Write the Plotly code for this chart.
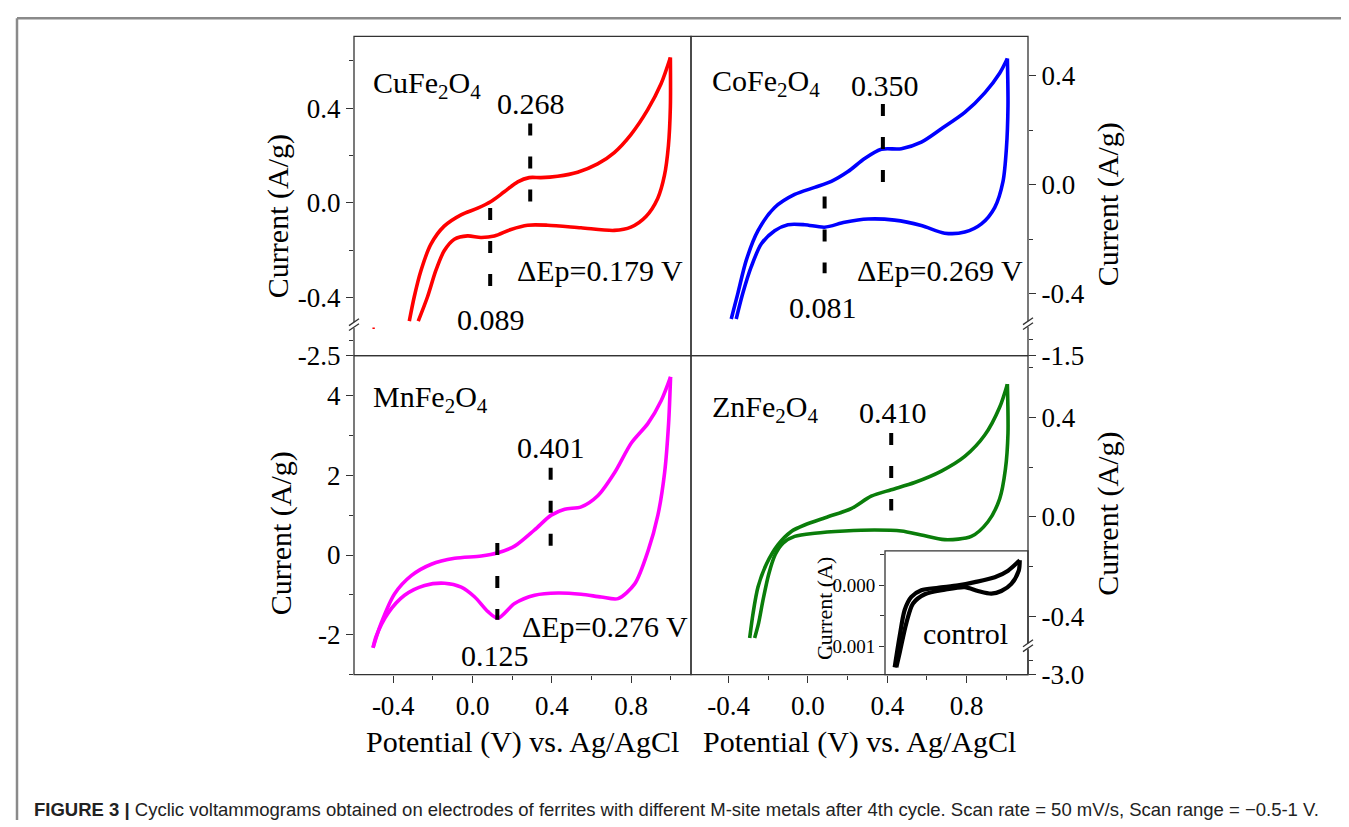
import plotly.graph_objects as go

W, H = 1349, 827

# ---------------- data ----------------
# CuFe2O4 (top-left), V vs Ag/AgCl, current A/g
cu_fwd_v = [-0.319, -0.294, -0.260, -0.210, -0.143, -0.058, 0.026, 0.093, 0.160, 0.228, 0.286, 0.345, 0.429, 0.530, 0.631, 0.715, 0.799, 0.883, 0.951, 0.998]
cu_fwd_i = [-0.499, -0.396, -0.285, -0.174, -0.098, -0.050, -0.022, 0.006, 0.047, 0.089, 0.107, 0.107, 0.113, 0.130, 0.165, 0.213, 0.289, 0.393, 0.503, 0.614]
cu_rev_v = [0.998, 0.998, 0.988, 0.968, 0.934, 0.875, 0.799, 0.715, 0.547, 0.379, 0.278, 0.194, 0.110, 0.042, -0.025, -0.092, -0.143, -0.185, -0.227, -0.274]
cu_rev_i = [0.614, 0.407, 0.241, 0.116, 0.019, -0.057, -0.102, -0.116, -0.105, -0.094, -0.094, -0.112, -0.140, -0.146, -0.139, -0.153, -0.202, -0.285, -0.396, -0.499]
cu_tail_v = [-0.505, -0.493]
cu_tail_i = [-2.32, -2.32]

# CoFe2O4 (top-right)
co_fwd_v = [-0.387, -0.353, -0.311, -0.252, -0.168, -0.067, 0.034, 0.118, 0.202, 0.286, 0.370, 0.471, 0.572, 0.673, 0.791, 0.892, 0.967, 1.006]
co_fwd_i = [-0.493, -0.397, -0.277, -0.169, -0.084, -0.036, -0.010, 0.012, 0.048, 0.096, 0.130, 0.132, 0.156, 0.205, 0.265, 0.337, 0.409, 0.463]
co_rev_v = [1.006, 1.009, 1.001, 0.984, 0.942, 0.875, 0.791, 0.690, 0.572, 0.437, 0.303, 0.185, 0.084, -0.017, -0.101, -0.168, -0.235, -0.286, -0.328, -0.362]
co_rev_i = [0.463, 0.289, 0.132, 0.012, -0.084, -0.144, -0.174, -0.178, -0.150, -0.130, -0.126, -0.138, -0.156, -0.147, -0.147, -0.169, -0.217, -0.301, -0.397, -0.493]

# MnFe2O4 (bottom-left)
mn_fwd_v = [-0.502, -0.461, -0.393, -0.309, -0.208, -0.090, 0.044, 0.128, 0.212, 0.313, 0.397, 0.465, 0.548, 0.633, 0.717, 0.801, 0.885, 0.952, 0.999]
mn_fwd_i = [-2.325, -1.709, -0.970, -0.517, -0.231, -0.083, -0.025, 0.057, 0.222, 0.631, 1.000, 1.148, 1.207, 1.493, 2.069, 2.808, 3.300, 3.874, 4.466]
mn_rev_v = [0.999, 0.989, 0.969, 0.935, 0.885, 0.818, 0.734, 0.649, 0.548, 0.431, 0.313, 0.212, 0.128, 0.078, 0.011, -0.057, -0.141, -0.242, -0.343, -0.427, -0.486, -0.502]
mn_rev_i = [4.466, 3.300, 2.069, 1.000, 0.099, -0.724, -1.093, -1.052, -0.985, -0.953, -1.010, -1.217, -1.586, -1.421, -1.052, -0.805, -0.707, -0.764, -1.010, -1.463, -2.037, -2.325]

# ZnFe2O4 (bottom-right)
zn_fwd_v = [-0.294, -0.277, -0.252, -0.210, -0.151, -0.084, -0.017, 0.101, 0.218, 0.319, 0.420, 0.538, 0.673, 0.791, 0.892, 0.967, 1.006]
zn_fwd_i = [-0.488, -0.389, -0.283, -0.191, -0.112, -0.059, -0.033, 0.000, 0.033, 0.083, 0.109, 0.138, 0.184, 0.243, 0.329, 0.441, 0.534]
zn_rev_v = [1.006, 1.009, 0.996, 0.967, 0.908, 0.824, 0.690, 0.572, 0.471, 0.337, 0.185, 0.034, -0.067, -0.126, -0.165, -0.198, -0.227, -0.249, -0.269]
zn_rev_i = [0.534, 0.336, 0.191, 0.072, -0.020, -0.079, -0.092, -0.073, -0.057, -0.053, -0.057, -0.066, -0.079, -0.106, -0.152, -0.231, -0.336, -0.428, -0.488]

# control (inset), current in A
ct_fwd_v = [-0.504, -0.444, -0.384, -0.304, -0.184, 0.016, 0.256, 0.457, 0.697, 0.857, 0.997]
ct_fwd_i = [-0.00135, -0.000839, -0.000408, -0.000194, -0.0000855, -0.0000435, -0.0000048, 0.0000484, 0.000129, 0.000237, 0.000408]
ct_rev_v = [0.997, 0.985, 0.896, 0.776, 0.656, 0.496, 0.337, 0.097, -0.143, -0.284, -0.364, -0.444, -0.484]
ct_rev_i = [0.000408, 0.000237, 0.000021, -0.0000968, -0.00014, -0.0000968, -0.0000323, -0.0000758, -0.00015, -0.000302, -0.000624, -0.00111, -0.00135]

# peak markers (dashed lines): potential, current from, current to
cu_peak_a = (0.291, 0.336, 0.004)
cu_peak_c = (0.089, -0.021, -0.353)
co_peak_a = (0.378, 0.296, 0.007)
co_peak_c = (0.084, -0.043, -0.325)
mn_peak_a = (0.394, 2.19, 0.23)
mn_peak_c = (0.125, 0.30, -1.62)
zn_peak_a = (0.420, 0.337, 0.025)

# tick values / labels
x_ticks = [-0.4, 0.0, 0.4, 0.8]
x_labels = ["-0.4", "0.0", "0.4", "0.8"]
x_minor = [-0.6, -0.2, 0.2, 0.6, 1.0]
small_ticks = [-0.4, 0.0, 0.4]
small_labels = ["-0.4", "0.0", "0.4"]
small_minor = [-0.2, 0.2, 0.6]
mn_ticks = [-2, 0, 2, 4]
mn_labels = ["-2", "0", "2", "4"]
mn_minor = [-3, -1, 1, 3, 5]
inset_ticks = [-0.001, 0.0]
inset_labels = ["-0.001", "0.000"]
inset_minor = [-0.0005, 0.0005]

# ---------------- layout helpers ----------------
def px(x):
    return x / W

def py(y):
    return 1 - y / H

SERIF = "Liberation Serif, Times New Roman, serif"
AX = "#333333"

RED, BLUE, MAG, GREEN = "#ff0000", "#0000ff", "#ff00ff", "#0a7d0a"
LW = 3.6

fig = go.Figure()

def cv(v1, i1, v2, i2, color, xa, ya, width=LW):
    for vv, ii in ((v1, i1), (v2, i2)):
        fig.add_trace(go.Scatter(x=vv, y=ii, mode="lines", xaxis=xa, yaxis=ya,
                                 line=dict(color=color, width=width, shape="spline", smoothing=0.8),
                                 showlegend=False, hoverinfo="skip"))

def peak(p, xa, ya):
    fig.add_trace(go.Scatter(x=[p[0], p[0]], y=[p[1], p[2]], mode="lines", xaxis=xa, yaxis=ya,
                             line=dict(color="black", width=4, dash="12px,21px"),
                             showlegend=False, hoverinfo="skip"))

cv(cu_fwd_v, cu_fwd_i, cu_rev_v, cu_rev_i, RED, "x", "y")
fig.add_trace(go.Scatter(x=cu_tail_v, y=cu_tail_i, mode="lines", xaxis="x", yaxis="y5",
                         line=dict(color=RED, width=1.5), showlegend=False, hoverinfo="skip"))
cv(co_fwd_v, co_fwd_i, co_rev_v, co_rev_i, BLUE, "x2", "y2")
fig.add_trace(go.Scatter(x=[None], y=[None], mode="lines", xaxis="x2", yaxis="y6", showlegend=False, hoverinfo="skip"))
cv(mn_fwd_v, mn_fwd_i, mn_rev_v, mn_rev_i, MAG, "x3", "y3")
cv(zn_fwd_v, zn_fwd_i, zn_rev_v, zn_rev_i, GREEN, "x4", "y4")
fig.add_trace(go.Scatter(x=[None], y=[None], mode="lines", xaxis="x4", yaxis="y7", showlegend=False, hoverinfo="skip"))
cv(ct_fwd_v, ct_fwd_i, ct_rev_v, ct_rev_i, "black", "x5", "y8", width=4.2)

peak(cu_peak_a, "x", "y"); peak(cu_peak_c, "x", "y")
peak(co_peak_a, "x2", "y2"); peak(co_peak_c, "x2", "y2")
peak(mn_peak_a, "x3", "y3"); peak(mn_peak_c, "x3", "y3")
peak(zn_peak_a, "x4", "y4")

tickfont = dict(family=SERIF, size=27, color="black")

def yax(dom, rng, tv, tt, mv, side="left", anchor="x", size=27, tl=7):
    return dict(domain=[py(dom[1]), py(dom[0])], range=rng, anchor=anchor, side=side,
                tickmode="array", tickvals=tv, ticktext=tt, ticks="outside", ticklen=tl,
                tickwidth=1.3, tickcolor=AX, showline=False, showgrid=False, zeroline=False,
                tickfont=dict(family=SERIF, size=size, color="black"),
                minor=dict(tickvals=mv, ticks="outside", ticklen=4, tickwidth=1.2, tickcolor=AX, showgrid=False))

def xax(dom, rng, anchor, show):
    d = dict(domain=[px(dom[0]), px(dom[1])], range=rng, anchor=anchor,
             showline=False, showgrid=False, zeroline=False)
    if show:
        d.update(tickmode="array", tickvals=x_ticks, ticktext=x_labels, ticks="outside", ticklen=7,
                 tickwidth=1.3, tickcolor=AX, tickfont=tickfont,
                 minor=dict(tickvals=x_minor, ticks="outside", ticklen=4, tickwidth=1.2, tickcolor=AX, showgrid=False))
    else:
        d.update(visible=False)
    return d

fig.update_layout(
    width=W, height=H, autosize=False,
    margin=dict(l=0, r=0, t=0, b=0),
    paper_bgcolor="white", plot_bgcolor="white",
    font=dict(family=SERIF, size=27, color="black"),
    xaxis=xax((346, 683), [-0.598, 1.102], "y", False),
    xaxis2=xax((683, 1020), [-0.590, 1.110], "y2", False),
    xaxis3=xax((346, 683), [-0.598, 1.102], "y3", True),
    xaxis4=xax((683, 1020), [-0.590, 1.110], "y7", True),
    xaxis5=xax((877, 1020), [-0.62, 1.096], "y8", False),
    yaxis=yax((29, 323), [-0.516, 0.703], small_ticks, small_labels, small_minor, "left", "x"),
    yaxis5=yax((323, 354), [-2.501, -2.3], [-2.5], ["-2.5"], [-2.4], "left", "x"),
    yaxis2=yax((29, 322), [-0.512, 0.544], small_ticks, small_labels, [-0.2, 0.2], "right", "x2"),
    yaxis6=yax((322, 354), [-1.501, -1.3], [-1.5], ["-1.5"], [-1.4], "right", "x2"),
    yaxis3=yax((354, 679), [-3.0, 5.0], mn_ticks, mn_labels, mn_minor, "left", "x3"),
    yaxis4=yax((354, 650), [-0.521, 0.649], small_ticks, small_labels, small_minor, "right", "x4"),
    yaxis7=yax((650, 679), [-3.001, -2.8], [-3.0], ["-3.0"], [-2.9], "right", "x4"),
    yaxis8=yax((553, 679), [-0.00147, 0.00056], inset_ticks, inset_labels, inset_minor, "left", "x5", size=19, tl=5),
)

shapes = []
def rect(x0, y0, x1, y1):
    shapes.append(dict(type="rect", xref="paper", yref="paper", x0=px(x0), x1=px(x1), y0=py(y1), y1=py(y0),
                       line=dict(color=AX, width=1.3), fillcolor="rgba(0,0,0,0)", layer="above"))

rect(346, 29, 683, 354)
rect(683, 29, 1020, 354)
rect(346, 354, 683, 679)
rect(683, 354, 1020, 679)
rect(877, 553, 1020, 679)

def brk(x, y):
    shapes.append(dict(type="line", xref="paper", yref="paper", x0=px(x), x1=px(x), y0=py(y + 3), y1=py(y - 3),
                       line=dict(color="white", width=4), layer="above"))
    for d in (-2.5, 2.5):
        shapes.append(dict(type="line", xref="paper", yref="paper", x0=px(x - 5), x1=px(x + 5),
                           y0=py(y + 3 + d), y1=py(y - 4 + d), line=dict(color=AX, width=1.3), layer="above"))

brk(346, 323)
brk(1020, 322)
brk(1020, 650)

# outer frame (top and left)
shapes.append(dict(type="line", xref="paper", yref="paper", x0=px(9), x1=1, y0=py(10.5), y1=py(10.5),
                   line=dict(color="#8a8a8a", width=2.5)))
shapes.append(dict(type="line", xref="paper", yref="paper", x0=px(9), x1=px(9), y0=0, y1=py(10.5),
                   line=dict(color="#8a8a8a", width=2.5)))
fig.update_layout(shapes=shapes)

ann = []
def txt(text, x, y, xref, yref, size=30, xanchor="center", yanchor="middle", angle=0, font=SERIF, color="black"):
    ann.append(dict(text=text, x=x, y=y, xref=xref, yref=yref, showarrow=False, xanchor=xanchor, yanchor=yanchor,
                    textangle=angle, font=dict(family=font, size=size, color=color)))

# panel labels and peak labels
txt("CuFe<sub>2</sub>O<sub>4</sub>", -0.513, 0.50, "x", "y", xanchor="left")
txt("0.268", 0.295, 0.419, "x", "y")
txt("ΔEp=0.179 V", 0.214, -0.286, "x", "y", xanchor="left")
txt("0.089", 0.093, -0.494, "x", "y")

txt("CoFe<sub>2</sub>O<sub>4</sub>", -0.494, 0.372, "x2", "y2", xanchor="left")
txt("0.350", 0.389, 0.365, "x2", "y2")
txt("ΔEp=0.269 V", 0.237, -0.314, "x2", "y2", xanchor="left")
txt("0.081", 0.076, -0.451, "x2", "y2")

txt("MnFe<sub>2</sub>O<sub>4</sub>", -0.513, 3.92, "x3", "y3", xanchor="left")
txt("0.401", 0.396, 2.69, "x3", "y3")
txt("ΔEp=0.276 V", 0.239, -1.79, "x3", "y3", xanchor="left")
txt("0.125", 0.113, -2.53, "x3", "y3")

txt("ZnFe<sub>2</sub>O<sub>4</sub>", -0.494, 0.435, "x4", "y4", xanchor="left")
txt("0.410", 0.429, 0.420, "x4", "y4")
txt("control", 0.34, -0.00079, "x5", "y8")

# axis titles
txt("Current (A/g)", px(270), py(212), "paper", "paper", angle=-90)
txt("Current (A/g)", px(273), py(535), "paper", "paper", angle=-90)
txt("Current (A/g)", px(1100), py(200), "paper", "paper", angle=-90)
txt("Current (A/g)", px(1100), py(515), "paper", "paper", angle=-90)
txt("Current (A)", px(817), py(612), "paper", "paper", size=22, angle=-90)
txt("Potential (V) vs. Ag/AgCl", px(514), py(748), "paper", "paper")
txt("Potential (V) vs. Ag/AgCl", px(851), py(748), "paper", "paper")

# caption
txt("<b>FIGURE 3 |</b> Cyclic voltammograms obtained on electrodes of ferrites with different M-site metals after 4th cycle. "
    "Scan rate = 50 mV/s, Scan range = \u22120.5-1 V.",
    px(24), py(816), "paper", "paper", size=18.5, xanchor="left", font="Liberation Sans, Arial, sans-serif", color="#222222")

fig.update_layout(annotations=ann)

fig.write_html("out.html")
